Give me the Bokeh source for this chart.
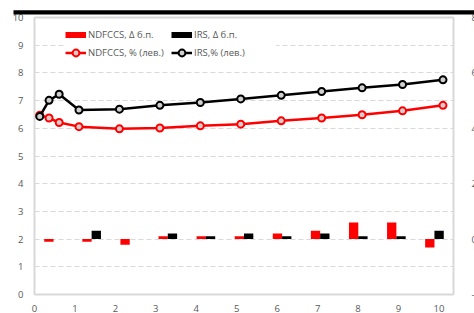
from bokeh.plotting import figure
from bokeh.models import (ColumnDataSource, Range1d, LinearAxis, FixedTicker,
                          Legend, LegendItem, Title)
from bokeh.transform import dodge
from bokeh.embed import file_html
from bokeh.resources import INLINE

# ---- data ----
tenor_years = [0.13, 0.36, 0.61, 1.1, 2.1, 3.1, 4.1, 5.1, 6.1, 7.1, 8.1, 9.1, 10.1]
ndfccs_pct = [6.47, 6.37, 6.21, 6.06, 5.98, 6.01, 6.09, 6.15, 6.27, 6.37, 6.49, 6.63, 6.83]
irs_pct = [6.43, 7.01, 7.23, 6.66, 6.69, 6.83, 6.93, 7.06, 7.19, 7.33, 7.46, 7.58, 7.75]

bar_tenors = ["6м", "1", "2", "3", "4", "5", "6", "7", "8", "9", "10"]
ndfccs_bp = [-1, -1, -2, 1, 1, 1, 2, 3, 6, 6, -3]
irs_bp = [0, 3, 0, 2, 1, 2, 1, 2, 1, 1, 3]

left_ticks = [0, 1, 2, 3, 4, 5, 6, 7, 8, 9, 10]
right_ticks = [-20, 0, 20, 40, 60, 80]
x_ticks = [0, 1, 2, 3, 4, 5, 6, 7, 8, 9, 10]

FONT = "Open Sans"
TXT = "#595959"
GRID = "#d9d9d9"

FRAME_W, FRAME_H = 419, 277

p = figure(frame_width=FRAME_W, frame_height=FRAME_H, output_backend="svg", toolbar_location=None,
           x_range=Range1d(0, 10.36), y_range=Range1d(0, 10),
           min_border_left=34, min_border_top=17, min_border_right=10, min_border_bottom=2)
p.background_fill_color = "white"
p.border_fill_color = "white"
p.outline_line_color = GRID
p.outline_line_width = 2

# bar categories sit on their own evenly spaced slot axis
n_cat = len(bar_tenors)
p.extra_x_ranges = {"bars": Range1d(-0.5, n_cat - 0.5)}
p.extra_y_ranges = {"bp": Range1d(-20, 80)}

# grid
p.xgrid.visible = False
p.ygrid.ticker = FixedTicker(ticks=left_ticks[1:-1])
p.ygrid.grid_line_color = GRID
p.ygrid.grid_line_dash = "5 3"
p.ygrid.grid_line_width = 1

# axes
for ax in (p.xaxis[0], p.yaxis[0]):
    ax.axis_line_color = None
    ax.major_tick_line_color = None
    ax.minor_tick_line_color = None
    ax.major_label_text_font = FONT
    ax.major_label_text_font_size = "9.5px"
    ax.major_label_text_color = TXT
p.yaxis[0].ticker = FixedTicker(ticks=left_ticks)
p.yaxis[0].major_label_standoff = 5
p.xaxis[0].ticker = FixedTicker(ticks=x_ticks)
p.xaxis[0].major_label_standoff = 4

rax = LinearAxis(y_range_name="bp", ticker=FixedTicker(ticks=right_ticks))
rax.axis_line_color = None
rax.major_tick_line_color = None
rax.minor_tick_line_color = None
rax.major_label_text_font = FONT
rax.major_label_text_font_size = "9.5px"
rax.major_label_text_color = TXT
rax.major_label_standoff = 12
rax.major_label_overrides = {-20: "- 20"}
p.add_layout(rax, "right")

# bars
bsrc = ColumnDataSource(dict(slot=list(range(n_cat)), t=bar_tenors, nd=ndfccs_bp, irs=irs_bp))
p.vbar(x=dodge("slot", -0.122), top="nd", bottom=0, width=0.245, source=bsrc,
       x_range_name="bars", y_range_name="bp", fill_color="#ff0000", line_color=None)
p.vbar(x=dodge("slot", 0.122), top="irs", bottom=0, width=0.245, source=bsrc,
       x_range_name="bars", y_range_name="bp", fill_color="#000000", line_color=None)

# lines
lsrc = ColumnDataSource(dict(x=tenor_years, nd=ndfccs_pct, irs=irs_pct))
l1 = p.line("x", "nd", source=lsrc, line_color="#ff0000", line_width=2.5)
s1 = p.scatter("x", "nd", source=lsrc, size=7, fill_color="#d0d0d0", line_color="#ff0000", line_width=2)
l2 = p.line("x", "irs", source=lsrc, line_color="#000000", line_width=2.5)
s2 = p.scatter("x", "irs", source=lsrc, size=7, fill_color="#d0d0d0", line_color="#000000", line_width=2)

# legend swatches for bars (thin box like Excel) - invisible in plot (NaN data)
nan = float("nan")
swatch = ColumnDataSource(dict(x=[nan], y=[nan]))
d1 = p.line("x", "y", source=swatch, line_color="#ff0000", line_width=6)
d2 = p.line("x", "y", source=swatch, line_color="#000000", line_width=6)

legend = Legend(items=[
    LegendItem(label="NDFCCS, Δ б.п.", renderers=[d1]),
    LegendItem(label="IRS, Δ б.п.", renderers=[d2]),
    LegendItem(label="NDFCCS, % (лев.)", renderers=[l1, s1]),
    LegendItem(label="IRS,% (лев.)", renderers=[l2, s2]),
], orientation="horizontal", ncols=2, location=(31, 233), margin=0, padding=4,
    spacing=1, glyph_width=21, glyph_height=17, label_height=17, label_width=82,
    label_standoff=2, label_text_font=FONT, label_text_font_size="9.5px",
    label_text_color=TXT, background_fill_color="white", background_fill_alpha=1,
    border_line_color=None)
p.add_layout(legend)

# thick black rule above the chart (underline of the cropped-off title)
rule = Title(text=" ", align="left", offset=-21, standoff=6,
             text_font_size="2px", text_color="black",
             background_fill_color="black", background_fill_alpha=1,
             padding=(230, 1))
p.add_layout(rule, "above")

open("out.html", "w").write(file_html(p, INLINE))
